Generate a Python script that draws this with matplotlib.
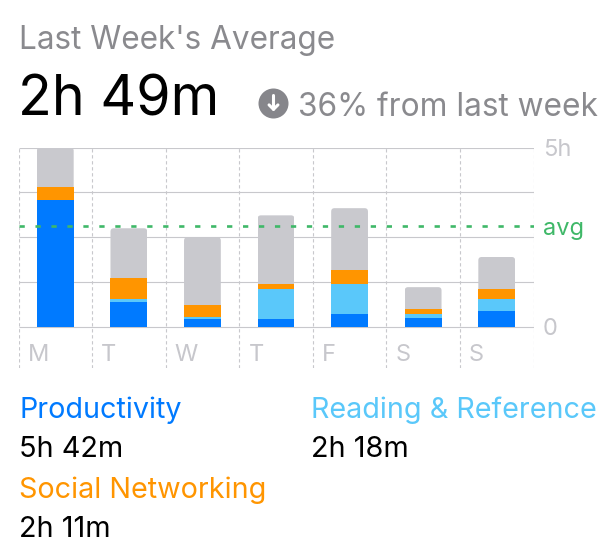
import matplotlib
matplotlib.use("Agg")
import matplotlib.pyplot as plt
from matplotlib.patches import Circle, FancyBboxPatch
import numpy as np

plt.rcParams["font.family"] = ["Inter", "Roboto", "DejaVu Sans"]

# ===== data (hours) =====
days = ["M", "T", "W", "T", "F", "S", "S"]
productivity = [3.55, 0.69, 0.23, 0.22, 0.36, 0.25, 0.45]
reading = [0.00, 0.08, 0.05, 0.83, 0.85, 0.10, 0.32]
social = [0.35, 0.60, 0.32, 0.16, 0.38, 0.16, 0.30]
other = [1.10, 1.38, 1.90, 1.90, 1.72, 0.60, 0.88]
avg_hours = 2.82
grid_hours = [0, 1.25, 2.5, 3.75, 5]
legend_left = [("Productivity", "5h 42m", "#007aff"), ("Social Networking", "2h 11m", "#ff9500")]
legend_right = [("Reading & Reference", "2h 18m", "#5ac8fa")]

W, H = 613, 559
BLUE, LIGHT, ORANGE, GRAY = "#007aff", "#5ac8fa", "#ff9500", "#c9c9ce"
LINE = "#c8c8cc"
TICK = "#c7c7cc"
GREEN = "#3fb868"
TEXT_GRAY = "#8a8a8e"

fig = plt.figure(figsize=(W / 100, H / 100), dpi=100, facecolor="white")

# plot area: 18.5..533.5 px wide, 147.5..368 px tall
ax = fig.add_axes([18.5 / W, 1 - 368 / H, 515 / W, 220.5 / H])
px_per_hour = 179.5 / 5
ax.set_xlim(0, 7)
ax.set_ylim(-(368 - 327) / px_per_hour, 5)
ax.axis("off")

ax.hlines(grid_hours, 0, 7, color=LINE, lw=0.8, zorder=1)
ax.vlines(np.arange(8), ax.get_ylim()[0], 5, color=LINE, lw=0.8,
          linestyles=(0, (3.0, 2.4)), zorder=1)

x = np.arange(7) + 0.5
bw = 0.5
b1 = np.array(productivity)
b2 = b1 + np.array(reading)
b3 = b2 + np.array(social)
ax.bar(x, productivity, bw, color=BLUE, zorder=3)
ax.bar(x, reading, bw, bottom=b1, color=LIGHT, zorder=3)
ax.bar(x, social, bw, bottom=b2, color=ORANGE, zorder=3)
tops = ax.bar(x, other, bw, bottom=b3, color=GRAY, zorder=3)

# rounded top corners on the gray part
for rect in tops:
    clip = FancyBboxPatch((rect.get_x(), rect.get_y() - 0.2), rect.get_width(),
                          rect.get_height() + 0.2,
                          boxstyle="round,pad=0,rounding_size=0.045",
                          mutation_aspect=(73.57 / px_per_hour),
                          transform=ax.transData)
    rect.set_clip_path(clip)

# period 16 px, dash about 5.3 px
ax.plot([0, 7], [avg_hours, avg_hours], color=GREEN, lw=1.9,
        linestyle=(0, (2.0, 4.05)), zorder=4, dash_capstyle="butt")

for i, d in enumerate(days):
    ax.text(i + 0.125, -(355 - 327) / px_per_hour, d, color=TICK, fontsize=17,
            ha="left", va="center")

# overlay in pixel coordinates for the texts
ov = fig.add_axes([0, 0, 1, 1])
ov.set_xlim(0, W)
ov.set_ylim(H, 0)
ov.axis("off")
ov.patch.set_alpha(0)

ov.text(543, 156, "5h", color=TICK, fontsize=17, va="baseline")
ov.text(543, 235, "avg", color=GREEN, fontsize=17, va="baseline")
ov.text(543, 335, "0", color=TICK, fontsize=17, va="baseline")

ov.text(19, 49, "Last Week's Average", color=TEXT_GRAY, fontsize=22.7, va="baseline")
ov.text(18, 116, "2h 49m", color="black", fontsize=40, va="baseline")

ov.add_patch(Circle((273.5, 103.5), 15, color="#86868b", lw=0))
ov.annotate("", xy=(273.5, 111.5), xytext=(273.5, 95.5),
            arrowprops=dict(arrowstyle="->,head_length=0.32,head_width=0.32",
                            color="white", lw=2.2, shrinkA=0, shrinkB=0))
ov.text(298, 116, "36% from last week", color=TEXT_GRAY, fontsize=22.8, va="baseline")

for (name, val, col), y in zip(legend_left, [418, 498]):
    ov.text(19, y, name, color=col, fontsize=20.7, va="baseline")
    ov.text(19, y + 39, val, color="black", fontsize=20.8, va="baseline")
for (name, val, col), y in zip(legend_right, [418]):
    ov.text(311, y, name, color=col, fontsize=20.7, va="baseline")
    ov.text(311, y + 39, val, color="black", fontsize=20.8, va="baseline")

fig.savefig("out.png", dpi=100)
